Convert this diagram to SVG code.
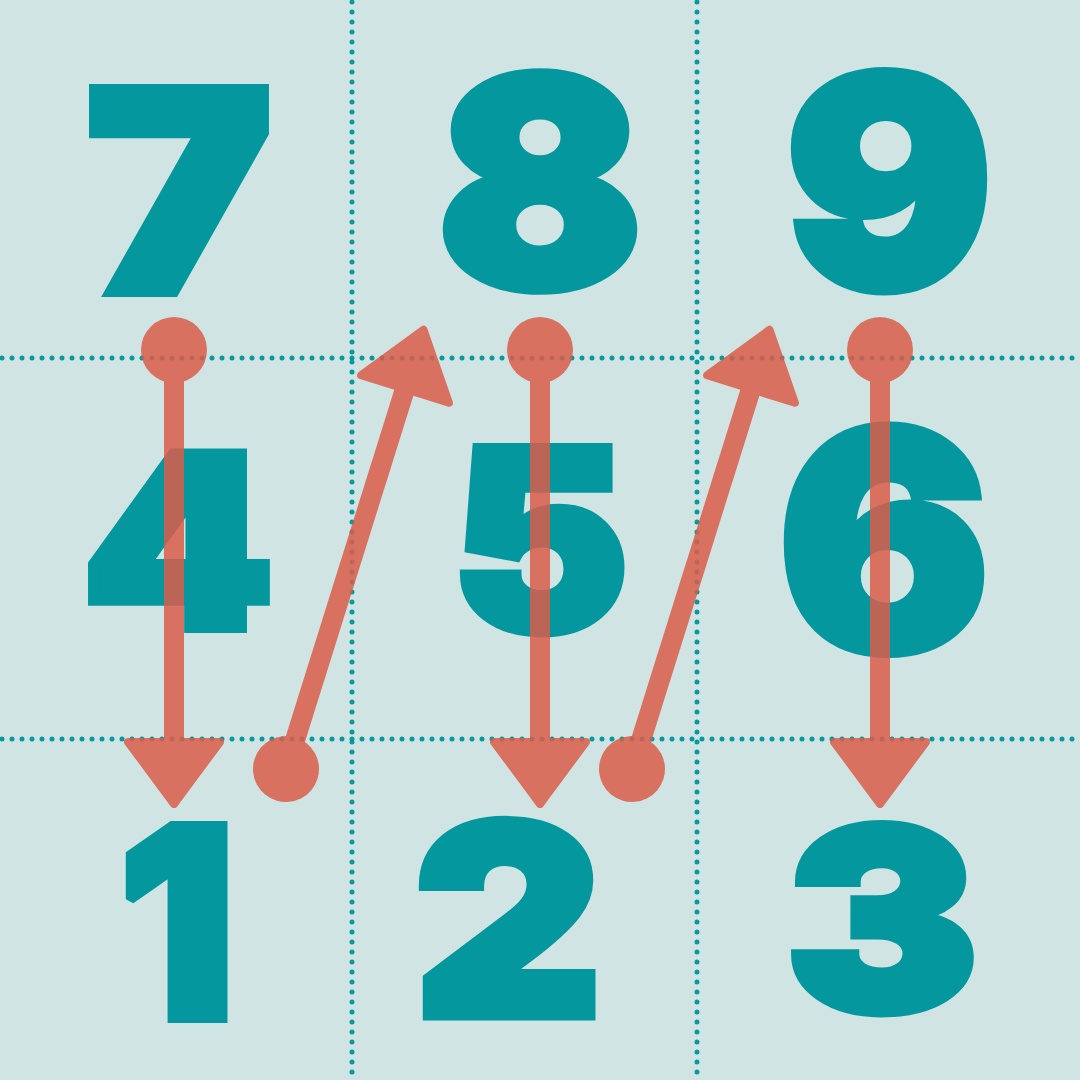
<svg xmlns="http://www.w3.org/2000/svg" width="1080" height="1080" viewBox="0 0 1080 1080">
<style>
.bg{fill:#D1E4E4}
.grid{stroke:#07999D;stroke-width:5;stroke-linecap:round;stroke-dasharray:0 10;fill:none}
.dg{font-family:"Inter","Roboto","Lato","DejaVu Sans",sans-serif;font-weight:900;fill:#04989E;stroke:#04989E;stroke-width:10;stroke-linejoin:miter;stroke-miterlimit:2;text-anchor:middle}
.shaft{stroke:#DB5D4B;stroke-width:20;fill:none}
.arw{opacity:0.85}
</style>
<defs>
<marker id="dot" markerUnits="userSpaceOnUse" markerWidth="80" markerHeight="80" viewBox="-40 -40 80 80" refX="0" refY="0" orient="auto" overflow="visible">
<circle r="33" fill="#DB5D4B"/>
</marker>
<marker id="head" markerUnits="userSpaceOnUse" markerWidth="140" markerHeight="140" viewBox="-70 -70 140 140" refX="0" refY="0" orient="auto" overflow="visible">
<polygon points="0,-46 62,0 0,46" fill="#DB5D4B" stroke="#DB5D4B" stroke-width="8" stroke-linejoin="round"/>
</marker>
</defs>
<rect class="bg" x="0" y="0" width="1080" height="1080"/>
<g id="grid">
<path class="grid" d="M352,2 V1080 M697,2 V1080 M2,358 H1080 M2,739 H1080"/>
</g>
<g id="digits">
<g id="n7"><text class="dg" transform="translate(179,292) scale(1.12,1)" font-size="279">7</text></g>
<g id="n8"><text class="dg" transform="translate(540,287) scale(1.04,1)" font-size="290">8</text></g>
<g id="n9"><text class="dg" transform="translate(889,287) scale(1.053,1)" font-size="291">9</text></g>
<g id="n4"><text class="dg" transform="translate(178,628) scale(1.133,1)" font-size="240">4</text></g>
<g id="n5"><text class="dg" transform="translate(540,630) scale(1.06,1)" font-size="250">5</text></g>
<g id="n6"><text class="dg" transform="translate(884,650) scale(1.035,1)" font-size="303">6</text></g>
<g id="n1"><text class="dg" transform="translate(177,1018) scale(0.965,1)" font-size="264">1</text></g>
<g id="n2"><text class="dg" transform="translate(508,1015.5) scale(1.097,1)" font-size="264" stroke-width="15">2</text></g>
<g id="n3"><text class="dg" transform="translate(882,1010) scale(1.142,1)" font-size="251">3</text></g>
</g>
<g id="connectors">
<g class="arw"><path class="shaft" d="M174,350 L174,742" marker-start="url(#dot)" marker-end="url(#head)"/></g>
<g class="arw"><path class="shaft" d="M286,769 L405,389" marker-start="url(#dot)" marker-end="url(#head)"/></g>
<g class="arw"><path class="shaft" d="M540,350 L540,742" marker-start="url(#dot)" marker-end="url(#head)"/></g>
<g class="arw"><path class="shaft" d="M632,769 L751,389" marker-start="url(#dot)" marker-end="url(#head)"/></g>
<g class="arw"><path class="shaft" d="M880,350 L880,742" marker-start="url(#dot)" marker-end="url(#head)"/></g>
</g>
</svg>
